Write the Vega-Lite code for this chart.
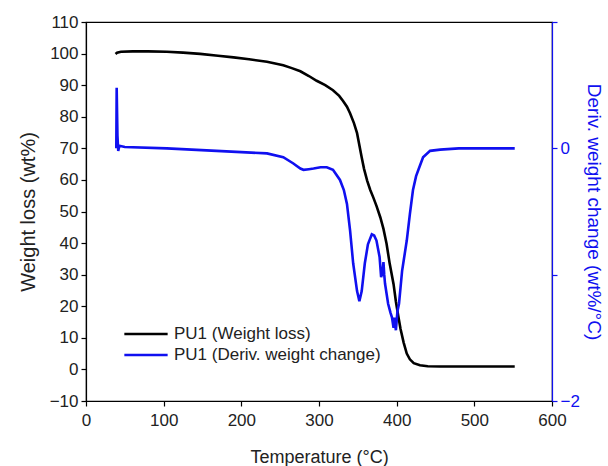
{
  "$schema": "https://vega.github.io/schema/vega-lite/v6.json",
  "width": 466,
  "height": 379,
  "autosize": "none",
  "padding": {"left": 86, "top": 22, "right": 56, "bottom": 65},
  "config": {
    "view": {"stroke": "#000000", "strokeWidth": 1.2},
    "font": "Liberation Sans",
    "axis": {"labelFont": "Liberation Sans", "titleFont": "Liberation Sans", "titleFontWeight": "normal", "labelColor": "#222222", "titleColor": "#222222", "domainColor": "#000000", "tickColor": "#000000", "domainWidth": 1.2, "tickWidth": 1.2, "grid": false}
  },
  "layer": [
    {
      "data": {"values": [
        {"T": 38, "v": 99.9, "s": "PU1 (Weight loss)"},
        {"T": 40, "v": 100.3, "s": "PU1 (Weight loss)"},
        {"T": 45, "v": 100.6, "s": "PU1 (Weight loss)"},
        {"T": 60, "v": 100.7, "s": "PU1 (Weight loss)"},
        {"T": 80, "v": 100.7, "s": "PU1 (Weight loss)"},
        {"T": 104, "v": 100.6, "s": "PU1 (Weight loss)"},
        {"T": 125, "v": 100.3, "s": "PU1 (Weight loss)"},
        {"T": 147, "v": 99.9, "s": "PU1 (Weight loss)"},
        {"T": 170, "v": 99.3, "s": "PU1 (Weight loss)"},
        {"T": 190, "v": 98.8, "s": "PU1 (Weight loss)"},
        {"T": 210, "v": 98.2, "s": "PU1 (Weight loss)"},
        {"T": 233, "v": 97.4, "s": "PU1 (Weight loss)"},
        {"T": 254, "v": 96.3, "s": "PU1 (Weight loss)"},
        {"T": 265, "v": 95.4, "s": "PU1 (Weight loss)"},
        {"T": 276, "v": 94.4, "s": "PU1 (Weight loss)"},
        {"T": 287, "v": 92.9, "s": "PU1 (Weight loss)"},
        {"T": 297, "v": 91.4, "s": "PU1 (Weight loss)"},
        {"T": 308, "v": 90.0, "s": "PU1 (Weight loss)"},
        {"T": 318, "v": 88.4, "s": "PU1 (Weight loss)"},
        {"T": 326, "v": 86.6, "s": "PU1 (Weight loss)"},
        {"T": 331, "v": 85.0, "s": "PU1 (Weight loss)"},
        {"T": 336, "v": 83.2, "s": "PU1 (Weight loss)"},
        {"T": 340, "v": 81.1, "s": "PU1 (Weight loss)"},
        {"T": 345, "v": 78.0, "s": "PU1 (Weight loss)"},
        {"T": 349, "v": 74.8, "s": "PU1 (Weight loss)"},
        {"T": 355, "v": 67.1, "s": "PU1 (Weight loss)"},
        {"T": 358, "v": 63.5, "s": "PU1 (Weight loss)"},
        {"T": 362, "v": 59.8, "s": "PU1 (Weight loss)"},
        {"T": 366, "v": 56.8, "s": "PU1 (Weight loss)"},
        {"T": 370, "v": 54.4, "s": "PU1 (Weight loss)"},
        {"T": 374, "v": 51.8, "s": "PU1 (Weight loss)"},
        {"T": 379, "v": 48.1, "s": "PU1 (Weight loss)"},
        {"T": 383, "v": 44.5, "s": "PU1 (Weight loss)"},
        {"T": 387, "v": 39.8, "s": "PU1 (Weight loss)"},
        {"T": 391, "v": 33.5, "s": "PU1 (Weight loss)"},
        {"T": 396, "v": 27.0, "s": "PU1 (Weight loss)"},
        {"T": 399, "v": 21.5, "s": "PU1 (Weight loss)"},
        {"T": 402, "v": 17.0, "s": "PU1 (Weight loss)"},
        {"T": 405, "v": 12.8, "s": "PU1 (Weight loss)"},
        {"T": 409, "v": 8.5, "s": "PU1 (Weight loss)"},
        {"T": 413, "v": 5.0, "s": "PU1 (Weight loss)"},
        {"T": 417, "v": 3.2, "s": "PU1 (Weight loss)"},
        {"T": 422, "v": 2.0, "s": "PU1 (Weight loss)"},
        {"T": 430, "v": 1.3, "s": "PU1 (Weight loss)"},
        {"T": 440, "v": 1.0, "s": "PU1 (Weight loss)"},
        {"T": 456, "v": 0.9, "s": "PU1 (Weight loss)"},
        {"T": 500, "v": 0.9, "s": "PU1 (Weight loss)"},
        {"T": 552, "v": 0.9, "s": "PU1 (Weight loss)"}
      ]},
      "mark": {"type": "line", "strokeWidth": 2.6},
      "encoding": {
        "x": {"field": "T", "type": "quantitative", "scale": {"domain": [0, 600], "nice": false},
          "axis": {"title": "Temperature (°C)", "values": [0,50,100,150,200,250,300,350,400,450,500,550,600], "labelExpr": "datum.value % 100 == 0 ? datum.label : ''", "tickSize": 5, "labelFontSize": 17, "titleFontSize": 18, "labelPadding": 6, "titlePadding": 20, "labelFlush": false}},
        "y": {"field": "v", "type": "quantitative", "scale": {"domain": [-10, 110], "nice": false, "zero": false},
          "axis": {"title": "Weight loss (wt%)", "values": [-10,0,10,20,30,40,50,60,70,80,90,100,110], "tickSize": 5, "labelFontSize": 17, "titleFontSize": 20, "labelPadding": 3, "titlePadding": 11, "labelFlush": false}},
        "color": {"field": "s", "type": "nominal", "sort": ["PU1 (Weight loss)", "PU1 (Deriv. weight change)"],
          "scale": {"domain": ["PU1 (Weight loss)", "PU1 (Deriv. weight change)"], "range": ["#000000", "#1010f0"]},
          "legend": {"title": null, "orient": "none", "legendX": 37, "legendY": 302, "symbolType": "M-1,0H4", "symbolSize": 300, "symbolStrokeWidth": 2.6, "symbolFillColor": "transparent", "labelFontSize": 17, "labelFont": "Liberation Sans", "labelColor": "#222222", "labelOffset": 31, "labelLimit": 0, "rowPadding": 3, "padding": 0}}
      }
    },
    {
      "data": {"values": [
        {"T": 39, "v": 0.0, "s": "PU1 (Deriv. weight change)"},
        {"T": 39.5, "v": 0.48, "s": "PU1 (Deriv. weight change)"},
        {"T": 40.5, "v": 0.1, "s": "PU1 (Deriv. weight change)"},
        {"T": 41.5, "v": -0.02, "s": "PU1 (Deriv. weight change)"},
        {"T": 43, "v": 0.02, "s": "PU1 (Deriv. weight change)"},
        {"T": 50, "v": 0.01, "s": "PU1 (Deriv. weight change)"},
        {"T": 104, "v": 0.0, "s": "PU1 (Deriv. weight change)"},
        {"T": 168, "v": -0.02, "s": "PU1 (Deriv. weight change)"},
        {"T": 233, "v": -0.04, "s": "PU1 (Deriv. weight change)"},
        {"T": 254, "v": -0.07, "s": "PU1 (Deriv. weight change)"},
        {"T": 267, "v": -0.12, "s": "PU1 (Deriv. weight change)"},
        {"T": 276, "v": -0.16, "s": "PU1 (Deriv. weight change)"},
        {"T": 280, "v": -0.17, "s": "PU1 (Deriv. weight change)"},
        {"T": 287, "v": -0.165, "s": "PU1 (Deriv. weight change)"},
        {"T": 293, "v": -0.16, "s": "PU1 (Deriv. weight change)"},
        {"T": 302, "v": -0.15, "s": "PU1 (Deriv. weight change)"},
        {"T": 310, "v": -0.15, "s": "PU1 (Deriv. weight change)"},
        {"T": 318, "v": -0.17, "s": "PU1 (Deriv. weight change)"},
        {"T": 327, "v": -0.25, "s": "PU1 (Deriv. weight change)"},
        {"T": 332, "v": -0.33, "s": "PU1 (Deriv. weight change)"},
        {"T": 336, "v": -0.44, "s": "PU1 (Deriv. weight change)"},
        {"T": 340, "v": -0.65, "s": "PU1 (Deriv. weight change)"},
        {"T": 344, "v": -0.91, "s": "PU1 (Deriv. weight change)"},
        {"T": 349, "v": -1.13, "s": "PU1 (Deriv. weight change)"},
        {"T": 352, "v": -1.21, "s": "PU1 (Deriv. weight change)"},
        {"T": 355, "v": -1.13, "s": "PU1 (Deriv. weight change)"},
        {"T": 359, "v": -0.91, "s": "PU1 (Deriv. weight change)"},
        {"T": 363, "v": -0.76, "s": "PU1 (Deriv. weight change)"},
        {"T": 368, "v": -0.68, "s": "PU1 (Deriv. weight change)"},
        {"T": 371, "v": -0.69, "s": "PU1 (Deriv. weight change)"},
        {"T": 374, "v": -0.73, "s": "PU1 (Deriv. weight change)"},
        {"T": 378, "v": -0.86, "s": "PU1 (Deriv. weight change)"},
        {"T": 380, "v": -1.02, "s": "PU1 (Deriv. weight change)"},
        {"T": 382, "v": -0.97, "s": "PU1 (Deriv. weight change)"},
        {"T": 383, "v": -0.9, "s": "PU1 (Deriv. weight change)"},
        {"T": 384, "v": -1.0, "s": "PU1 (Deriv. weight change)"},
        {"T": 385, "v": -1.07, "s": "PU1 (Deriv. weight change)"},
        {"T": 389, "v": -1.23, "s": "PU1 (Deriv. weight change)"},
        {"T": 392, "v": -1.3, "s": "PU1 (Deriv. weight change)"},
        {"T": 394, "v": -1.34, "s": "PU1 (Deriv. weight change)"},
        {"T": 396, "v": -1.42, "s": "PU1 (Deriv. weight change)"},
        {"T": 397, "v": -1.34, "s": "PU1 (Deriv. weight change)"},
        {"T": 399, "v": -1.44, "s": "PU1 (Deriv. weight change)"},
        {"T": 401, "v": -1.29, "s": "PU1 (Deriv. weight change)"},
        {"T": 403, "v": -1.23, "s": "PU1 (Deriv. weight change)"},
        {"T": 405, "v": -1.1, "s": "PU1 (Deriv. weight change)"},
        {"T": 407, "v": -0.97, "s": "PU1 (Deriv. weight change)"},
        {"T": 409, "v": -0.89, "s": "PU1 (Deriv. weight change)"},
        {"T": 413, "v": -0.73, "s": "PU1 (Deriv. weight change)"},
        {"T": 417, "v": -0.52, "s": "PU1 (Deriv. weight change)"},
        {"T": 421, "v": -0.33, "s": "PU1 (Deriv. weight change)"},
        {"T": 425, "v": -0.22, "s": "PU1 (Deriv. weight change)"},
        {"T": 428, "v": -0.17, "s": "PU1 (Deriv. weight change)"},
        {"T": 434, "v": -0.07, "s": "PU1 (Deriv. weight change)"},
        {"T": 443, "v": -0.02, "s": "PU1 (Deriv. weight change)"},
        {"T": 456, "v": -0.01, "s": "PU1 (Deriv. weight change)"},
        {"T": 480, "v": 0.0, "s": "PU1 (Deriv. weight change)"},
        {"T": 552, "v": 0.0, "s": "PU1 (Deriv. weight change)"}
      ]},
      "mark": {"type": "line", "strokeWidth": 2.6},
      "encoding": {
        "x": {"field": "T", "type": "quantitative"},
        "y": {"field": "v", "type": "quantitative", "scale": {"domain": [-2, 1], "nice": false, "zero": false},
          "axis": {"orient": "right", "title": "Deriv. weight change (wt%/°C)", "values": [-2, -1, 0, 1], "labelExpr": "datum.value % 2 == 0 ? datum.label : ''", "tickSize": 5, "labelFontSize": 17, "titleFontSize": 19, "labelColor": "#1010f0", "titleColor": "#1010f0", "domainColor": "#1010f0", "tickColor": "#1010f0", "labelPadding": 3, "titlePadding": 4, "labelFlush": false, "zindex": 2}},
        "color": {"field": "s", "type": "nominal"}
      }
    }
  ],
  "resolve": {"scale": {"y": "independent"}}
}
